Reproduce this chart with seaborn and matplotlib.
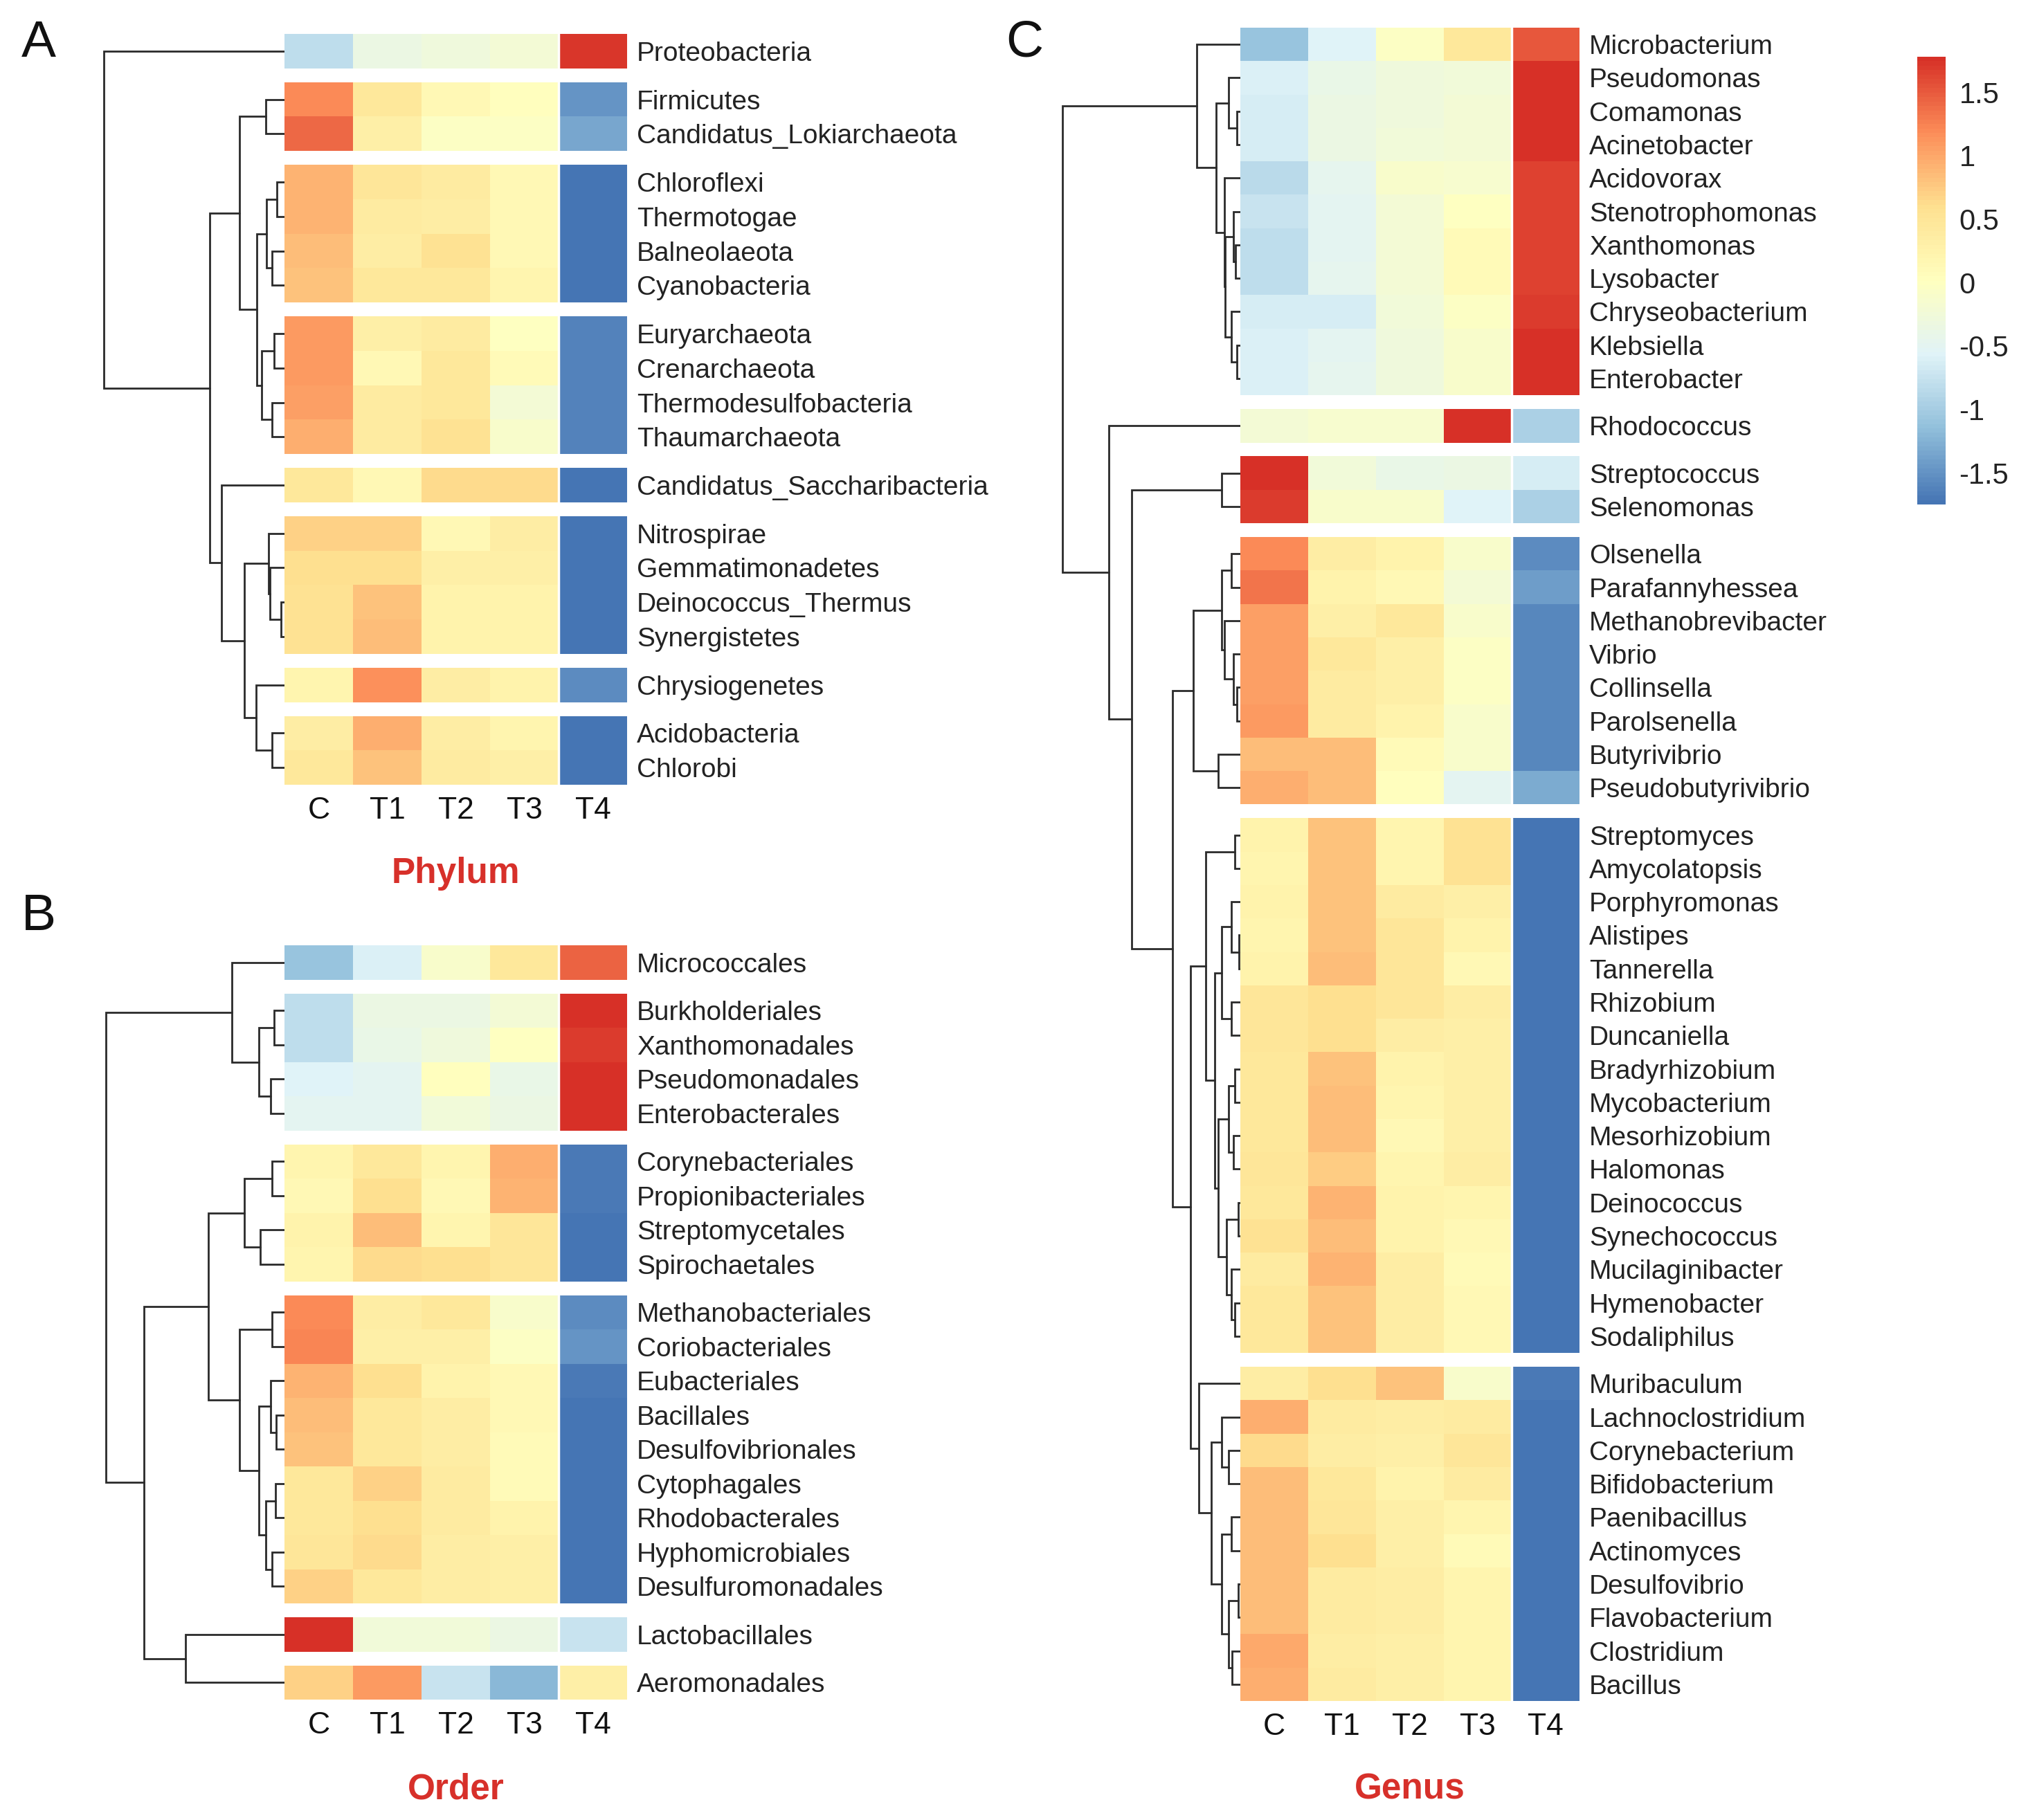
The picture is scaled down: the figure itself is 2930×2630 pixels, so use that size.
import numpy as np
import pandas as pd
import seaborn as sns
import matplotlib.pyplot as plt
from matplotlib.colors import LinearSegmentedColormap

sns.set_theme(style='white')
plt.rcParams['font.family'] = ['Liberation Sans', 'DejaVu Sans']

# Samples (columns)
samples = ['C', 'T1', 'T2', 'T3', 'T4']

# ---------------- Phylum (panel A) ----------------
phylum_names = ['Proteobacteria', 'Firmicutes', 'Candidatus_Lokiarchaeota', 'Chloroflexi',
                'Thermotogae', 'Balneolaeota', 'Cyanobacteria', 'Euryarchaeota', 'Crenarchaeota',
                'Thermodesulfobacteria', 'Thaumarchaeota', 'Candidatus_Saccharibacteria',
                'Nitrospirae', 'Gemmatimonadetes', 'Deinococcus_Thermus', 'Synergistetes',
                'Chrysiogenetes', 'Acidobacteria', 'Chlorobi']
phylum_values = [
    [-0.80, -0.35, -0.30, -0.20, 1.74],
    [1.20, 0.45, 0.15, 0.05, -1.50],
    [1.40, 0.30, -0.05, -0.05, -1.35],
    [0.90, 0.50, 0.40, 0.15, -1.72],
    [0.90, 0.40, 0.35, 0.15, -1.72],
    [0.85, 0.35, 0.55, 0.15, -1.72],
    [0.80, 0.45, 0.45, 0.20, -1.75],
    [1.10, 0.30, 0.40, 0.00, -1.62],
    [1.10, 0.15, 0.45, 0.10, -1.62],
    [1.05, 0.40, 0.45, -0.20, -1.62],
    [0.95, 0.40, 0.55, -0.10, -1.62],
    [0.45, 0.15, 0.65, 0.65, -1.75],
    [0.70, 0.70, 0.15, 0.35, -1.75],
    [0.60, 0.60, 0.30, 0.30, -1.75],
    [0.55, 0.80, 0.25, 0.25, -1.75],
    [0.55, 0.85, 0.25, 0.25, -1.75],
    [0.20, 1.15, 0.35, 0.25, -1.55],
    [0.35, 0.95, 0.35, 0.20, -1.75],
    [0.45, 0.80, 0.40, 0.30, -1.75],
]
phylum_groups = [1, 2, 4, 4, 1, 4, 1, 2]
phylum_tree = [0, [[[1, 2, 0.104],
                    [[[3, 4, 0.043], [5, 6, 0.069], 0.10],
                     [[7, 8, 0.057], [9, 10, 0.069], 0.127], 0.154], 0.25],
                   [11, [[12, [13, [14, 15, 0.018], 0.082], 0.088],
                         [16, [17, 18, 0.069], 0.158], 0.223], 0.35], 0.415], 1.0]

# ---------------- Order (panel B) ----------------
order_names = ['Micrococcales', 'Burkholderiales', 'Xanthomonadales', 'Pseudomonadales',
               'Enterobacterales', 'Corynebacteriales', 'Propionibacteriales', 'Streptomycetales',
               'Spirochaetales', 'Methanobacteriales', 'Coriobacteriales', 'Eubacteriales',
               'Bacillales', 'Desulfovibrionales', 'Cytophagales', 'Rhodobacterales',
               'Hyphomicrobiales', 'Desulfuromonadales', 'Lactobacillales', 'Aeromonadales']
order_values = [
    [-1.10, -0.60, -0.10, 0.45, 1.45],
    [-0.80, -0.35, -0.35, -0.20, 1.75],
    [-0.80, -0.40, -0.30, 0.00, 1.70],
    [-0.55, -0.50, 0.05, -0.40, 1.75],
    [-0.50, -0.50, -0.25, -0.35, 1.75],
    [0.20, 0.45, 0.20, 0.95, -1.70],
    [0.15, 0.60, 0.15, 0.90, -1.70],
    [0.25, 0.85, 0.20, 0.50, -1.75],
    [0.20, 0.65, 0.60, 0.50, -1.75],
    [1.20, 0.35, 0.45, -0.10, -1.55],
    [1.25, 0.30, 0.30, -0.05, -1.50],
    [0.90, 0.60, 0.25, 0.15, -1.70],
    [0.85, 0.45, 0.35, 0.15, -1.75],
    [0.80, 0.45, 0.35, 0.10, -1.75],
    [0.45, 0.70, 0.40, 0.10, -1.75],
    [0.45, 0.60, 0.40, 0.25, -1.75],
    [0.50, 0.65, 0.35, 0.30, -1.75],
    [0.70, 0.45, 0.35, 0.30, -1.75],
    [1.75, -0.25, -0.25, -0.35, -0.75],
    [0.70, 1.10, -0.75, -1.20, 0.30],
]
order_groups = [1, 4, 4, 9, 1, 1]
order_tree = [[0, [[1, 2, 0.058], [3, 4, 0.077], 0.142], 0.296],
              [[[[5, 6, 0.071], [7, 8, 0.135], 0.225],
                [[9, 10, 0.071],
                 [[11, [12, 13, 0.045], 0.077],
                  [[14, 15, 0.051], [16, 17, 0.071], 0.103], 0.142], 0.251], 0.425],
               [18, 19, 0.553], 0.785], 1.0]

# ---------------- Genus (panel C) ----------------
genus_names = ['Microbacterium', 'Pseudomonas', 'Comamonas', 'Acinetobacter', 'Acidovorax',
               'Stenotrophomonas', 'Xanthomonas', 'Lysobacter', 'Chryseobacterium', 'Klebsiella',
               'Enterobacter', 'Rhodococcus', 'Streptococcus', 'Selenomonas', 'Olsenella',
               'Parafannyhessea', 'Methanobrevibacter', 'Vibrio', 'Collinsella', 'Parolsenella',
               'Butyrivibrio', 'Pseudobutyrivibrio', 'Streptomyces', 'Amycolatopsis',
               'Porphyromonas', 'Alistipes', 'Tannerella', 'Rhizobium', 'Duncaniella',
               'Bradyrhizobium', 'Mycobacterium', 'Mesorhizobium', 'Halomonas', 'Deinococcus',
               'Synechococcus', 'Mucilaginibacter', 'Hymenobacter', 'Sodaliphilus', 'Muribaculum',
               'Lachnoclostridium', 'Corynebacterium', 'Bifidobacterium', 'Paenibacillus',
               'Actinomyces', 'Desulfovibrio', 'Flavobacterium', 'Clostridium', 'Bacillus']
genus_values = [
    [-1.10, -0.55, -0.05, 0.45, 1.50],
    [-0.60, -0.40, -0.30, -0.25, 1.75],
    [-0.65, -0.35, -0.30, -0.20, 1.75],
    [-0.65, -0.35, -0.25, -0.20, 1.75],
    [-0.85, -0.45, -0.10, -0.15, 1.65],
    [-0.75, -0.50, -0.20, 0.00, 1.65],
    [-0.80, -0.50, -0.20, 0.10, 1.65],
    [-0.80, -0.45, -0.20, 0.10, 1.65],
    [-0.65, -0.65, -0.25, -0.05, 1.70],
    [-0.60, -0.50, -0.30, -0.10, 1.75],
    [-0.60, -0.45, -0.30, -0.10, 1.75],
    [-0.20, -0.15, -0.15, 1.75, -0.95],
    [1.75, -0.25, -0.40, -0.35, -0.65],
    [1.70, -0.10, -0.10, -0.55, -0.95],
    [1.20, 0.35, 0.25, -0.10, -1.55],
    [1.35, 0.25, 0.15, -0.20, -1.40],
    [1.05, 0.30, 0.45, -0.10, -1.60],
    [1.05, 0.45, 0.30, -0.05, -1.60],
    [1.05, 0.40, 0.30, -0.05, -1.60],
    [1.10, 0.40, 0.25, -0.10, -1.60],
    [0.85, 0.85, 0.10, -0.10, -1.60],
    [0.95, 0.85, 0.05, -0.50, -1.30],
    [0.25, 0.80, 0.20, 0.55, -1.78],
    [0.20, 0.80, 0.20, 0.55, -1.75],
    [0.25, 0.80, 0.40, 0.30, -1.75],
    [0.20, 0.80, 0.50, 0.25, -1.75],
    [0.25, 0.85, 0.50, 0.15, -1.75],
    [0.50, 0.60, 0.50, 0.35, -1.75],
    [0.50, 0.60, 0.35, 0.30, -1.75],
    [0.45, 0.80, 0.25, 0.30, -1.75],
    [0.45, 0.85, 0.20, 0.30, -1.75],
    [0.45, 0.85, 0.15, 0.30, -1.75],
    [0.50, 0.75, 0.20, 0.35, -1.75],
    [0.45, 0.90, 0.25, 0.20, -1.75],
    [0.55, 0.85, 0.25, 0.15, -1.75],
    [0.40, 0.90, 0.35, 0.10, -1.75],
    [0.45, 0.80, 0.35, 0.15, -1.75],
    [0.45, 0.80, 0.35, 0.15, -1.75],
    [0.35, 0.60, 0.80, -0.10, -1.70],
    [0.95, 0.40, 0.35, 0.40, -1.75],
    [0.65, 0.35, 0.30, 0.50, -1.75],
    [0.85, 0.45, 0.25, 0.40, -1.75],
    [0.85, 0.50, 0.30, 0.20, -1.75],
    [0.85, 0.60, 0.30, 0.10, -1.75],
    [0.85, 0.40, 0.35, 0.20, -1.75],
    [0.85, 0.40, 0.35, 0.20, -1.75],
    [1.00, 0.35, 0.30, 0.20, -1.75],
    [0.95, 0.40, 0.30, 0.20, -1.75],
]
genus_groups = [11, 1, 2, 8, 16, 10]
genus_top = [0, [[1, [2, 3, 0.019], 0.065],
                 [4, [[5, [6, 7, 0.026], 0.039], [8, [9, 10, 0.02], 0.052], 0.084], 0.091], 0.136], 0.247]
genus_olsen = [[[14, 15, 0.052], [16, [17, [18, 19, 0.019], 0.039], 0.091], 0.104],
               [20, 21, 0.123], 0.266]
genus_strep = [[22, 23, 0.032],
               [[[24, [25, 26, 0.008], 0.052], [27, 28, 0.052], 0.104],
                [[[29, 30, 0.03], [31, 32, 0.04], 0.065],
                 [[33, 34, 0.013], [35, [36, 37, 0.03], 0.052], 0.078], 0.123], 0.143], 0.195]
genus_muri = [38, [[39, [40, 41, 0.065], 0.104],
                   [[42, 43, 0.052], [[44, 45, 0.013], [46, 47, 0.045], 0.065], 0.104], 0.162], 0.234]
genus_tree = [genus_top,
              [11, [[12, 13, 0.104], [genus_olsen, [genus_strep, genus_muri, 0.279], 0.383], 0.61], 0.74],
              1.0]

cbar_ticks = [1.5, 1, 0.5, 0, -0.5, -1, -1.5]
cbar_labels = ['1.5', '1', '0.5', '0', '-0.5', '-1', '-1.5']

# pheatmap-like palette
cmap = LinearSegmentedColormap.from_list(
    'rdylbu', ['#4575B4', '#91BFDB', '#E0F3F8', '#FFFFBF', '#FEE090', '#FC8D59', '#D73027'], N=100)
vmin, vmax = -1.75, 1.78

W, H = 2930, 2630
fig = plt.figure(figsize=(W / 100, H / 100), dpi=100)
overlay = fig.add_axes([0, 0, 1, 1])
overlay.set_xlim(0, W)
overlay.set_ylim(H, 0)
overlay.axis('off')


def px_axes(x0, y0, x1, y1):
    return fig.add_axes([x0 / W, 1 - y1 / H, (x1 - x0) / W, (y1 - y0) / H])


def draw_tree(node, leaf_y, left, root_x):
    if isinstance(node, int):
        return left, leaf_y[node]
    a, b, hgt = node
    xa, ya = draw_tree(a, leaf_y, left, root_x)
    xb, yb = draw_tree(b, leaf_y, left, root_x)
    xn = left - hgt * (left - root_x)
    overlay.plot([xa, xn, xn, xb], [ya, ya, yb, yb], color='#2a2a2a', lw=2.0,
                 solid_joinstyle='miter')
    return xn, (ya + yb) / 2


def draw_panel(names, values, groups, tree, left, right, top, bottom, root_x,
               title, title_y, letter, letter_xy, cbar_ax=None):
    gap = 20
    row_h = (bottom - top - gap * (len(groups) - 1)) / len(names)
    df = pd.DataFrame(values, index=names, columns=samples)
    leaf_y = []
    start = 0
    for i, size in enumerate(groups):
        y0 = top + start * row_h + i * gap
        ax = px_axes(left, y0, right, y0 + size * row_h)
        last = i == len(groups) - 1
        use_cbar = cbar_ax is not None and i == 0
        sns.heatmap(df.iloc[start:start + size], ax=ax, cmap=cmap, vmin=vmin, vmax=vmax,
                    cbar=use_cbar, cbar_ax=cbar_ax if use_cbar else None,
                    xticklabels=samples if last else False, yticklabels=True)
        ax.axvline(4, color='white', lw=2.5)
        ax.set_xlabel('')
        ax.set_ylabel('')
        ax.yaxis.tick_right()
        ax.tick_params(axis='y', length=0, pad=10, labelsize=28, labelcolor='#222222',
                       labelrotation=0)
        if last:
            ax.tick_params(axis='x', length=0, pad=12, labelsize=32, labelcolor='#111111',
                           labelrotation=0)
        if use_cbar:
            cb = ax.collections[0].colorbar
            cb.set_ticks(cbar_ticks)
            cb.set_ticklabels(cbar_labels)
            cb.outline.set_visible(False)
            cb.ax.tick_params(length=0, labelsize=30, pad=14, labelcolor='#222222')
        leaf_y += [y0 + (k + 0.5) * row_h for k in range(size)]
        start += size
    draw_tree(tree, leaf_y, left, root_x)
    overlay.text((left + right) / 2, title_y, title, ha='center', va='center',
                 fontsize=37, fontweight='bold', color='#D7302A')
    overlay.text(letter_xy[0], letter_xy[1], letter, ha='center', va='center',
                 fontsize=54, color='#111111')


cbar_ax = px_axes(2770, 82, 2811, 729)

draw_panel(phylum_names, phylum_values, phylum_groups, phylum_tree,
           411, 906, 49, 1134, 150, 'Phylum', 1262, 'A', (56, 62))
draw_panel(order_names, order_values, order_groups, order_tree,
           411, 906, 1366, 2456, 153, 'Order', 2586, 'B', (56, 1324))
draw_panel(genus_names, genus_values, genus_groups, genus_tree,
           1792, 2282, 40, 2458, 1535, 'Genus', 2586, 'C', (1480, 62), cbar_ax=cbar_ax)

fig.savefig('out.png', dpi=100, facecolor='white')
